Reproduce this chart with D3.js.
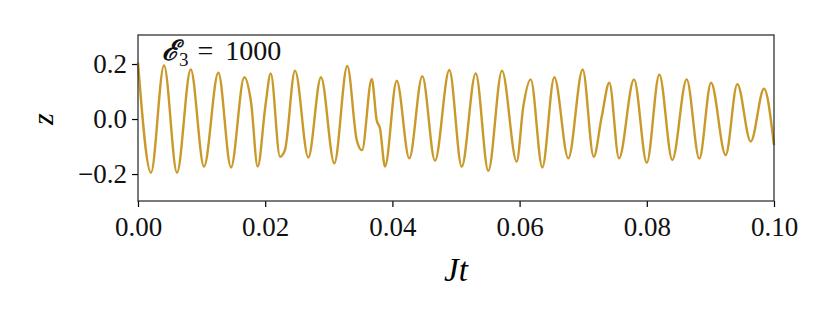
<html>

<head>
    <script src="https://d3js.org/d3.v7.min.js"></script>
</head>

<body style="margin:0;background:white">
    <svg></svg>
    <script>
        // curve: extrema and shoulders
        const jt = [0.0, 0.00204, 0.00409, 0.00613, 0.00829, 0.01038, 0.01263, 0.01462, 0.01671, 0.01777,
            0.01882, 0.02005, 0.02087, 0.02233, 0.0231, 0.02469, 0.02678, 0.02877, 0.03087, 0.03291,
            0.03439, 0.03522, 0.03675, 0.03753, 0.03805, 0.03884, 0.04068, 0.04266, 0.0447, 0.0467,
            0.04895, 0.0509, 0.0531, 0.05508, 0.05723, 0.05954, 0.06058, 0.06175, 0.06357, 0.06546,
            0.06766, 0.06992, 0.07165, 0.07291, 0.07411, 0.07563, 0.07799, 0.08, 0.08197, 0.08401,
            0.08627, 0.08826, 0.0901, 0.0924, 0.09423, 0.09634, 0.09843, 0.1]
        const z = [0.205, -0.195, 0.195, -0.195, 0.18, -0.173, 0.168, -0.176, 0.152, 0.062,
            -0.173, 0.051, 0.166, -0.137, -0.113, 0.176, -0.14, 0.152, -0.161, 0.193,
            -0.076, -0.113, 0.146, -0.004, -0.034, -0.173, 0.139, -0.143, 0.156, -0.152,
            0.178, -0.173, 0.166, -0.188, 0.176, -0.155, 0.045, 0.144, -0.176, 0.152,
            -0.143, 0.18, -0.137, 0.008, 0.132, -0.143, 0.144, -0.159, 0.162, -0.149,
            0.144, -0.144, 0.132, -0.131, 0.127, -0.082, 0.110, -0.095]
        const xTicks = [0, 0.02, 0.04, 0.06, 0.08, 0.1]
        const yTicks = [-0.2, 0.0, 0.2]

        const lineColor = "#c9992a"
        const font = "Liberation Serif, DejaVu Serif, serif"

        const width = 830
        const height = 320
        const marginLeft = 138
        const marginRight = 56
        const marginTop = 35
        const marginBottom = 119

        const xScale = d3.scaleLinear([0, 0.1], [marginLeft, width - marginRight])
        const yScale = d3.scaleLinear([-0.298, 0.3055], [height - marginBottom, marginTop])

        const svg = d3.select("svg")
            .attr("width", width)
            .attr("height", height)
            .attr("viewBox", [0, 0, width, height])
            .style("display", "block")

        // x axis
        svg.append("g")
            .attr("transform", `translate(0,${height - marginBottom})`)
            .call(d3.axisBottom(xScale).tickValues(xTicks).tickFormat(d3.format(".2f")).tickSize(6).tickPadding(10))
            .call(g => g.select(".domain").remove())
            .call(g => g.selectAll(".tick line").attr("stroke-width", 1.2))
            .call(g => g.selectAll(".tick text").attr("font-size", 27).attr("font-family", font).attr("fill", "#111"))

        // y axis
        svg.append("g")
            .attr("transform", `translate(${marginLeft},0)`)
            .call(d3.axisLeft(yScale).tickValues(yTicks).tickFormat(d3.format(".1f")).tickSize(6).tickPadding(5))
            .call(g => g.select(".domain").remove())
            .call(g => g.selectAll(".tick line").attr("stroke-width", 1.2))
            .call(g => g.selectAll(".tick text").attr("font-size", 27).attr("font-family", font).attr("fill", "#111"))

        // the line
        const I = d3.range(jt.length)
        const line = d3.line()
            .curve(d3.curveMonotoneX)
            .x(i => xScale(jt[i]))
            .y(i => yScale(z[i]))
        svg.append("path")
            .attr("fill", "none")
            .attr("stroke", lineColor)
            .attr("stroke-width", 2.4)
            .attr("stroke-linejoin", "round")
            .attr("d", line(I))

        // frame
        svg.append("rect")
            .attr("x", marginLeft)
            .attr("y", marginTop)
            .attr("width", width - marginLeft - marginRight)
            .attr("height", height - marginTop - marginBottom)
            .attr("fill", "none")
            .attr("stroke", "#222")
            .attr("stroke-width", 1.2)

        // annotation
        const ann = svg.append("text")
            .attr("x", 162)
            .attr("y", 60)
            .attr("font-size", 28)
            .attr("fill", "#111")
        ann.append("tspan").attr("font-style", "italic").attr("font-weight", "bold")
            .attr("font-family", "DejaVu Serif, serif").text("ℰ")
        ann.append("tspan").attr("font-family", font).attr("font-size", 19).attr("dy", 6).text("3")
        ann.append("tspan").attr("font-family", font).attr("dy", -6).attr("dx", 9).text("=")
        ann.append("tspan").attr("font-family", font).attr("dx", 12).text("1000")

        // axis labels
        svg.append("text")
            .attr("x", (marginLeft + width - marginRight) / 2)
            .attr("y", 281)
            .attr("text-anchor", "middle")
            .attr("font-family", font)
            .attr("font-style", "italic")
            .attr("font-size", 33)
            .text("Jt")

        svg.append("text")
            .attr("transform", `translate(53,${yScale(0)}) rotate(-90)`)
            .attr("text-anchor", "middle")
            .attr("font-family", font)
            .attr("font-style", "italic")
            .attr("font-size", 30)
            .text("z")
    </script>
</body>

</html>
